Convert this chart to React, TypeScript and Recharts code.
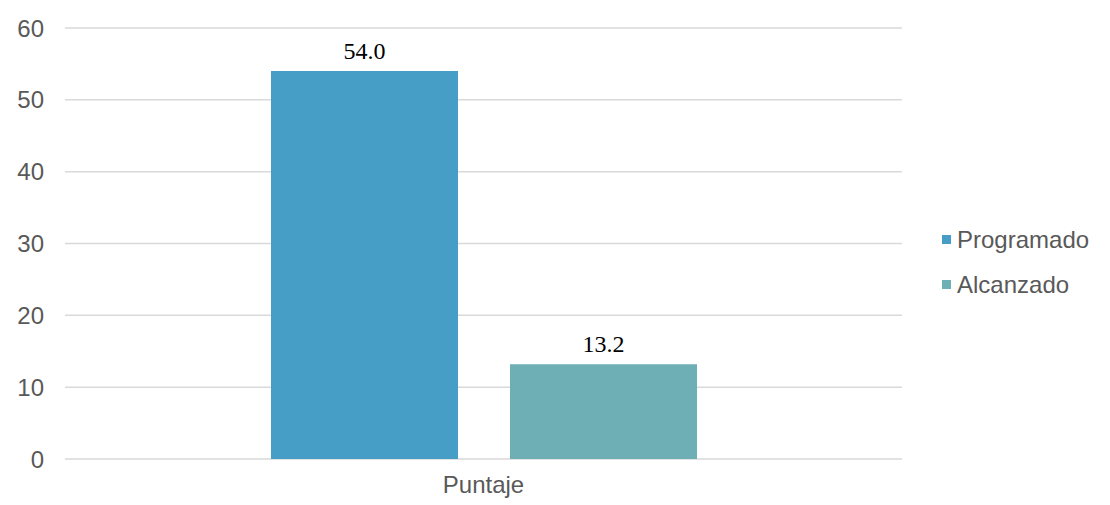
import React from 'react';
import {
  Bar,
  BarChart,
  CartesianGrid,
  LabelList,
  Legend,
  XAxis,
  YAxis,
} from 'recharts';

const CATEGORIES = ['Puntaje'];
const PROGRAMADO = [54.0];
const ALCANZADO = [13.2];
const Y_TICKS = [0, 10, 20, 30, 40, 50, 60];

const SERIES = [
  { key: 'Programado', color: '#469dc6' },
  { key: 'Alcanzado', color: '#6eaeb5' },
];

const data = CATEGORIES.map((name, i) => ({
  name,
  Programado: PROGRAMADO[i],
  Alcanzado: ALCANZADO[i],
}));

const AXIS_FONT = { fill: '#595959', fontSize: 24, fontFamily: '"Liberation Sans", Arial, sans-serif' };

function LegendBox() {
  return (
    <div style={{ fontFamily: '"Liberation Sans", Arial, sans-serif', fontSize: 24, color: '#595959' }}>
      {SERIES.map((s) => (
        <div key={s.key} style={{ display: 'flex', alignItems: 'center', height: 45 }}>
          <span style={{ width: 9, height: 9, background: s.color, marginRight: 6, display: 'inline-block' }} />
          <span>{s.key}</span>
        </div>
      ))}
    </div>
  );
}

function ScoreChart() {
  return (
    <div style={{ position: 'absolute', left: 0, top: 0, width: 1110, height: 505, background: '#fff' }}>
      <BarChart
        width={1110}
        height={505}
        data={data}
        margin={{ top: 28, right: 208, left: 5, bottom: 0 }}
        barGap={52}
      >
        <CartesianGrid vertical={false} stroke="#d9d9d9" strokeWidth={1.5} />
        <XAxis
          dataKey="name"
          axisLine={false}
          tickLine={false}
          height={46}
          tickMargin={11}
          tick={AXIS_FONT}
        />
        <YAxis
          domain={[0, 60]}
          ticks={Y_TICKS}
          axisLine={false}
          tickLine={false}
          width={60}
          tickMargin={15}
          tick={AXIS_FONT}
        />
        <Legend
          layout="horizontal"
          verticalAlign="middle"
          content={<LegendBox />}
          wrapperStyle={{ left: 942, top: 217, width: 168 }}
        />
        {SERIES.map((s) => (
          <Bar key={s.key} dataKey={s.key} fill={s.color} barSize={187} isAnimationActive={false}>
            <LabelList
              dataKey={s.key}
              position="top"
              offset={12}
              formatter={(v: any) => Number(v).toFixed(1)}
              style={{ fill: '#000', fontSize: 24, fontFamily: '"Liberation Serif", "Times New Roman", serif' }}
            />
          </Bar>
        ))}
      </BarChart>
    </div>
  );
}

export default function App() {
  return <ScoreChart />;
}
